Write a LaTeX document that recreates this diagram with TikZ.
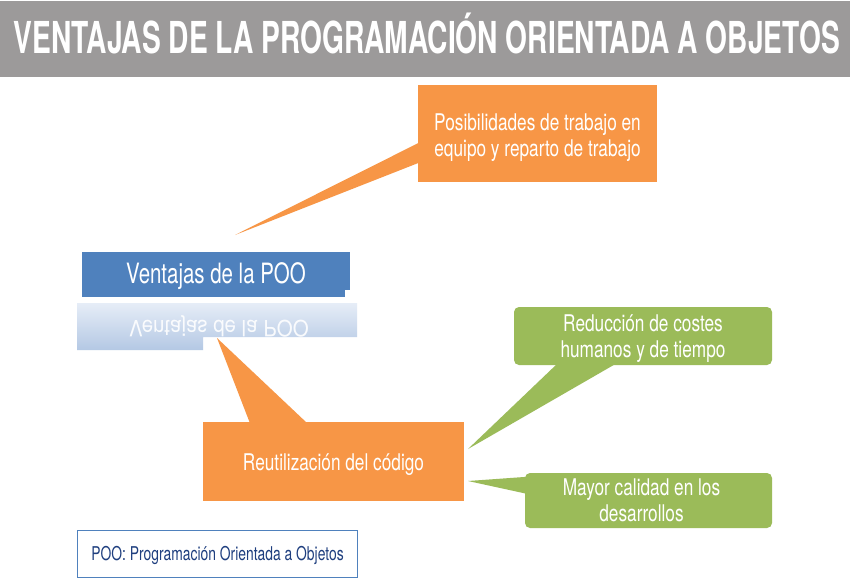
\documentclass[tikz,border=0pt]{standalone}
\usepackage{fontspec}
\setmainfont{TeX Gyre Heros}
\usepackage{graphicx}
\usetikzlibrary{calc}
\definecolor{hdr}{HTML}{9C9A9A}
\definecolor{org}{HTML}{F79646}
\definecolor{grn}{HTML}{9BBB59}
\definecolor{blu}{HTML}{4F81BD}
\definecolor{navy}{HTML}{1F3F7F}
\definecolor{reflA}{HTML}{E6EDF7}
\definecolor{reflB}{HTML}{B4C8E4}
\newcommand\dn[2]{\raisebox{-#1}[\height][\depth]{#2}}
\newcommand\cnd[1]{\scalebox{0.75}[1]{#1}}
\newcommand\twoline[2]{\cnd{\begin{tabular}{@{}c@{}}#1\\#2\end{tabular}}}
\tikzset{
  box/.style={inner sep=0pt, text=white, font=\fontsize{23}{26}\selectfont, align=center},
  obox/.style={box, fill=org},
  gbox/.style={box, fill=grn, rounded corners=5pt},
}
\begin{document}
\begin{tikzpicture}[x=1pt,y=-1pt]
\useasboundingbox (0,0) rectangle (858,581);
\fill[white] (0,0) rectangle (858,581);
% header
\node[fill=hdr, minimum width=850pt, minimum height=76pt, inner sep=0pt, anchor=north west] (hdr) at (0,1) {};
\node[text=white, anchor=base, inner sep=0pt] (title) at (427,53)
  {\resizebox{826pt}{\height}{\fontsize{44}{44}\selectfont\bfseries VENTAJAS DE LA PROGRAMACIÓN ORIENTADA A OBJETOS}};
% orange box 1
\node[obox, minimum width=239pt, minimum height=97pt] (o1) at (537.5,133.5)
  {\dn{5pt}{\twoline{Posibilidades de trabajo en}{equipo y reparto de trabajo}}};
\coordinate (t1) at (235,235);
\fill[org] ($(o1.north west)+(1,58)$) -- (t1) -- ($(o1.north west)+(1,78)$) -- cycle;
% blue box
\node[box, fill=blu, minimum width=268pt, minimum height=45pt, font=\fontsize{28}{30}\selectfont] (poo) at (216,274.5)
  {\dn{2pt}{\scalebox{0.73}[1]{Ventajas de la POO}}};
\fill[white] (344.5,290) rectangle (351,298);
% reflection
\shade[top color=reflA, bottom color=reflB] (77,303) -- (357,303) -- (357,337) -- (203,337) -- (203,350) -- (77,350) -- cycle;
\node[text=white, opacity=0.9, inner sep=0pt, font=\fontsize{28}{30}\selectfont] (mir) at (219,326)
  {\scalebox{0.73}[-0.8]{Ventajas de la POO}};
% orange box 2
\node[obox, minimum width=261pt, minimum height=79pt] (o2) at (333.5,461.5)
  {\dn{3pt}{\cnd{Reutilización del código}}};
\coordinate (t2) at (217,338);
\fill[org] ($(o2.north west)+(47,1)$) -- (t2) -- ($(o2.north west)+(104,1)$) -- cycle;
% green box 1
\node[gbox, minimum width=258pt, minimum height=58pt] (g1) at (643,336)
  {\dn{3pt}{\twoline{Reducción de costes}{humanos y de tiempo}}};
\coordinate (t3) at (468,449);
\fill[grn] ($(g1.south west)+(44,-2)$) -- (t3) -- ($(g1.south west)+(103,-2)$) -- cycle;
% green box 2
\node[gbox, minimum width=247pt, minimum height=55pt] (g2) at (648.5,500.5)
  {\dn{3pt}{\mbox{\twoline{Mayor calidad en los}{desarrollos}\hspace{14pt}}}};
\coordinate (t4) at (468,481);
\fill[grn] ($(g2.north west)+(2,4)$) -- (t4) -- ($(g2.north west)+(2,21)$) -- cycle;
% legend
\node[draw=blu, line width=1.5pt, minimum width=280pt, minimum height=47pt, inner sep=0pt, text=navy, font=\fontsize{19}{20}\selectfont] (leg) at (217.5,554)
  {\dn{1pt}{\scalebox{0.73}[1]{POO: Programación Orientada a Objetos}}};
\end{tikzpicture}
\end{document}
